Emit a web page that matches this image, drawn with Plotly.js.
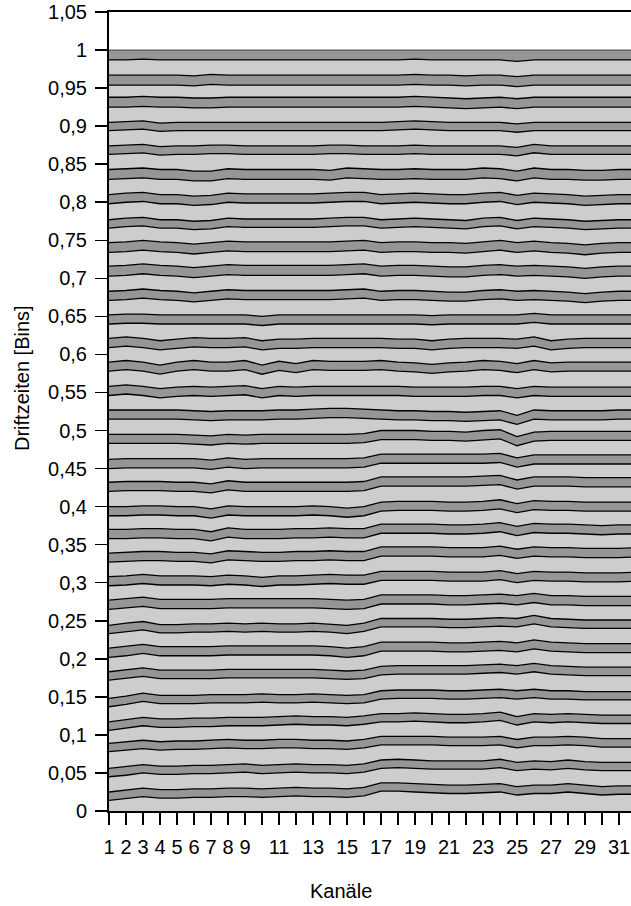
<!DOCTYPE html>
<html><head><meta charset="utf-8">
<script src="https://cdn.plot.ly/plotly-3.0.1.min.js"></script>
<style>html,body{margin:0;padding:0;overflow:hidden;background:#fff}#chart{width:636px;height:906px}</style>
</head><body><div id="chart"></div>
<script>
const channels = [1,2,3,4,5,6,7,8,9,10,11,12,13,14,15,16,17,18,19,20,21,22,23,24,25,26,27,28,29,30,31,32];
const xTickText = ['1','2','3','4','5','6','7','8','9','','11','','13','','15','','17','','19','','21','','23','','25','','27','','29','','31',''];
const yTickVals = [0,0.05,0.1,0.15,0.2,0.25,0.3,0.35,0.4,0.45,0.5,0.55,0.6,0.65,0.7,0.75,0.8,0.85,0.9,0.95,1,1.05];
const yTickText = ['0','0,05','0,1','0,15','0,2','0,25','0,3','0,35','0,4','0,45','0,5','0,55','0,6','0,65','0,7','0,75','0,8','0,85','0,9','0,95','1','1,05'];

// boundary lines (cumulative fraction) per channel; u = lower edge of dark band, t = upper edge
const u01 = [.014,.016,.019,.017,.017,.018,.018,.019,.019,.018,.019,.020,.019,.019,.018,.020,.026,.026,.025,.024,.023,.023,.024,.025,.021,.023,.023,.025,.023,.021,.022,.022];
const t01 = [.025,.027,.030,.028,.028,.029,.029,.030,.030,.029,.030,.031,.030,.030,.029,.031,.037,.037,.036,.035,.034,.034,.035,.036,.032,.034,.034,.036,.034,.032,.033,.033];
const u02 = [.045,.047,.050,.048,.048,.049,.049,.050,.051,.049,.050,.051,.050,.050,.049,.051,.056,.057,.056,.055,.055,.055,.055,.057,.053,.055,.054,.056,.054,.053,.053,.053];
const t02 = [.056,.058,.061,.059,.059,.060,.060,.061,.062,.060,.061,.062,.061,.061,.060,.062,.067,.068,.067,.066,.066,.066,.066,.068,.064,.066,.065,.067,.065,.064,.064,.064];
const u03 = [.078,.080,.082,.080,.081,.081,.082,.083,.082,.082,.083,.083,.082,.082,.081,.083,.087,.087,.087,.087,.086,.086,.086,.087,.083,.086,.086,.087,.086,.084,.084,.084];
const t03 = [.089,.091,.093,.091,.092,.092,.093,.094,.093,.093,.094,.094,.093,.093,.092,.094,.098,.098,.098,.098,.097,.097,.097,.098,.094,.097,.097,.098,.097,.095,.095,.095];
const u04 = [.106,.109,.112,.110,.110,.111,.111,.112,.112,.112,.113,.114,.113,.113,.112,.114,.117,.117,.118,.117,.116,.116,.117,.119,.113,.117,.116,.117,.116,.115,.115,.115];
const t04 = [.117,.120,.123,.121,.121,.122,.122,.123,.123,.123,.124,.125,.124,.124,.123,.125,.128,.128,.129,.128,.127,.127,.128,.130,.124,.128,.127,.128,.127,.126,.126,.126];
const u05 = [.137,.140,.144,.141,.141,.141,.142,.142,.142,.143,.142,.142,.143,.142,.141,.142,.147,.148,.148,.148,.147,.147,.148,.149,.147,.149,.147,.147,.146,.146,.146,.146];
const t05 = [.148,.151,.155,.152,.152,.152,.153,.153,.153,.154,.153,.153,.154,.153,.152,.153,.158,.159,.159,.159,.158,.158,.159,.160,.158,.160,.158,.158,.157,.157,.157,.157];
const u06 = [.172,.174,.177,.174,.174,.174,.174,.175,.175,.175,.175,.175,.175,.174,.173,.174,.179,.180,.180,.180,.180,.180,.181,.182,.180,.183,.180,.179,.178,.178,.178,.178];
const t06 = [.183,.185,.188,.185,.185,.185,.185,.186,.186,.186,.186,.186,.186,.185,.184,.185,.190,.191,.191,.191,.191,.191,.192,.193,.191,.194,.191,.190,.189,.189,.189,.189];
const u07 = [.202,.204,.207,.204,.204,.204,.204,.205,.205,.205,.205,.205,.205,.204,.202,.204,.210,.210,.210,.210,.209,.209,.210,.211,.209,.213,.210,.209,.208,.208,.208,.208];
const t07 = [.214,.216,.219,.216,.216,.216,.216,.217,.217,.217,.217,.217,.217,.216,.214,.216,.222,.222,.222,.222,.221,.221,.222,.223,.221,.225,.222,.221,.220,.220,.220,.220];
const u08 = [.233,.236,.238,.234,.234,.235,.235,.236,.235,.236,.235,.235,.236,.235,.233,.236,.242,.242,.242,.242,.241,.241,.242,.243,.242,.246,.242,.241,.240,.240,.240,.240];
const t08 = [.244,.247,.249,.245,.245,.246,.246,.247,.246,.247,.246,.246,.247,.246,.244,.247,.253,.253,.253,.253,.252,.252,.253,.254,.253,.257,.253,.252,.251,.251,.251,.251];
const u09 = [.265,.267,.269,.266,.266,.266,.266,.267,.267,.267,.267,.267,.267,.266,.265,.266,.272,.272,.272,.272,.271,.271,.272,.273,.271,.274,.271,.271,.270,.270,.270,.270];
const t09 = [.277,.279,.281,.278,.278,.278,.278,.279,.279,.279,.279,.279,.279,.278,.277,.278,.284,.284,.284,.284,.283,.283,.284,.285,.283,.286,.283,.283,.282,.282,.282,.282];
const u10 = [.296,.297,.299,.297,.297,.297,.296,.298,.297,.295,.297,.297,.298,.299,.298,.298,.303,.303,.303,.303,.302,.302,.302,.304,.300,.303,.302,.302,.301,.301,.301,.302];
const t10 = [.308,.309,.311,.309,.309,.309,.308,.310,.309,.307,.309,.309,.310,.311,.310,.310,.315,.315,.315,.315,.314,.314,.314,.316,.312,.315,.314,.314,.313,.313,.313,.314];
const u11 = [.327,.328,.329,.329,.328,.328,.326,.330,.329,.328,.328,.329,.329,.330,.329,.329,.335,.335,.335,.335,.334,.334,.334,.336,.332,.335,.334,.334,.333,.333,.333,.334];
const t11 = [.339,.340,.341,.341,.340,.340,.338,.342,.341,.340,.340,.341,.341,.342,.341,.341,.347,.347,.347,.347,.346,.346,.346,.348,.344,.347,.346,.346,.345,.345,.345,.346];
const u12 = [.358,.358,.359,.359,.358,.358,.355,.360,.358,.358,.358,.359,.359,.360,.359,.359,.365,.365,.365,.365,.364,.364,.365,.367,.362,.366,.365,.365,.364,.363,.364,.364];
const t12 = [.370,.370,.371,.371,.370,.370,.367,.372,.370,.370,.370,.371,.371,.372,.371,.371,.377,.377,.377,.377,.376,.376,.377,.379,.374,.378,.377,.377,.376,.375,.376,.376];
const u13 = [.388,.388,.389,.389,.388,.388,.385,.389,.388,.388,.388,.388,.389,.388,.386,.388,.394,.395,.395,.395,.394,.394,.395,.397,.392,.396,.395,.395,.394,.394,.394,.394];
const t13 = [.400,.400,.401,.401,.400,.400,.397,.401,.400,.400,.400,.400,.401,.400,.398,.400,.406,.407,.407,.407,.406,.406,.407,.409,.404,.408,.407,.407,.406,.406,.406,.406];
const u14 = [.420,.421,.421,.421,.420,.420,.418,.422,.420,.420,.420,.420,.420,.420,.420,.421,.427,.427,.427,.427,.427,.427,.428,.429,.423,.427,.427,.427,.426,.426,.426,.426];
const t14 = [.432,.433,.433,.433,.432,.432,.430,.434,.432,.432,.432,.432,.432,.432,.432,.433,.439,.439,.439,.439,.439,.439,.440,.441,.435,.439,.439,.439,.438,.438,.438,.438];
const u15 = [.450,.451,.451,.451,.451,.451,.449,.452,.450,.451,.451,.451,.451,.451,.451,.452,.457,.457,.457,.457,.457,.457,.457,.458,.452,.456,.456,.456,.456,.456,.456,.456];
const t15 = [.462,.463,.463,.463,.463,.463,.461,.464,.462,.463,.463,.463,.463,.463,.463,.464,.469,.469,.469,.469,.469,.469,.469,.470,.464,.468,.468,.468,.468,.468,.468,.468];
const u16 = [.483,.483,.483,.483,.483,.482,.481,.483,.482,.483,.483,.483,.483,.483,.483,.484,.488,.488,.488,.487,.487,.486,.488,.489,.480,.486,.487,.487,.487,.487,.487,.487];
const t16 = [.495,.495,.495,.495,.495,.494,.493,.495,.494,.495,.495,.495,.495,.495,.495,.496,.500,.500,.500,.499,.499,.498,.500,.501,.492,.498,.499,.499,.499,.499,.499,.499];
const u17 = [.515,.515,.515,.515,.515,.514,.513,.514,.514,.514,.515,.515,.516,.517,.517,.516,.515,.514,.514,.513,.513,.512,.513,.514,.508,.515,.514,.514,.514,.514,.515,.515];
const t17 = [.527,.527,.527,.527,.527,.526,.525,.526,.526,.526,.527,.527,.528,.529,.529,.528,.527,.526,.526,.525,.525,.524,.525,.526,.520,.527,.526,.526,.526,.526,.527,.527];
const u18 = [.546,.548,.546,.543,.545,.546,.545,.546,.547,.543,.546,.545,.546,.546,.546,.546,.546,.546,.545,.545,.545,.545,.546,.546,.543,.546,.545,.545,.545,.545,.545,.545];
const t18 = [.558,.560,.558,.555,.557,.558,.557,.558,.559,.555,.558,.557,.558,.558,.558,.558,.558,.558,.557,.557,.557,.557,.558,.558,.555,.558,.557,.557,.557,.557,.557,.557];
const u19 = [.578,.580,.578,.574,.578,.580,.578,.578,.580,.574,.579,.576,.580,.579,.579,.579,.580,.578,.577,.575,.577,.578,.580,.579,.576,.580,.577,.578,.578,.578,.578,.578];
const t19 = [.590,.592,.590,.586,.590,.592,.590,.590,.592,.586,.591,.588,.592,.591,.591,.591,.592,.590,.589,.587,.589,.590,.592,.591,.588,.592,.589,.590,.590,.590,.590,.590];
const u20 = [.609,.611,.609,.606,.608,.610,.609,.609,.610,.606,.608,.608,.609,.609,.609,.609,.609,.608,.608,.606,.608,.609,.609,.609,.608,.611,.606,.608,.609,.609,.609,.609];
const t20 = [.621,.623,.621,.618,.620,.622,.621,.621,.622,.618,.620,.620,.621,.621,.621,.621,.621,.620,.620,.618,.620,.621,.621,.621,.620,.623,.618,.620,.621,.621,.621,.621];
const u21 = [.640,.641,.641,.640,.640,.640,.640,.640,.640,.638,.640,.640,.640,.640,.640,.640,.640,.640,.640,.639,.640,.640,.640,.640,.640,.642,.640,.640,.640,.640,.640,.640];
const t21 = [.652,.653,.653,.652,.652,.652,.652,.652,.652,.650,.652,.652,.652,.652,.652,.652,.652,.652,.652,.651,.652,.652,.652,.652,.652,.654,.652,.652,.652,.652,.652,.652];
const u22 = [.671,.672,.674,.672,.671,.669,.671,.673,.672,.672,.672,.672,.672,.672,.673,.674,.671,.672,.672,.671,.670,.670,.672,.673,.671,.672,.671,.670,.668,.670,.671,.671];
const t22 = [.683,.684,.686,.684,.683,.681,.683,.685,.684,.684,.684,.684,.684,.684,.685,.686,.683,.684,.684,.683,.682,.682,.684,.685,.683,.684,.683,.682,.680,.682,.683,.683];
const u23 = [.703,.704,.706,.704,.703,.701,.703,.705,.704,.704,.704,.704,.704,.704,.705,.706,.703,.704,.704,.703,.702,.702,.704,.705,.703,.704,.703,.702,.700,.702,.703,.703];
const t23 = [.716,.717,.719,.717,.716,.714,.716,.718,.717,.717,.717,.717,.717,.717,.718,.719,.716,.717,.717,.716,.715,.715,.717,.718,.716,.717,.716,.715,.713,.715,.716,.716];
const u24 = [.734,.735,.737,.735,.734,.732,.734,.736,.735,.735,.735,.735,.735,.735,.736,.737,.734,.735,.735,.734,.734,.733,.735,.737,.734,.736,.734,.733,.731,.733,.734,.734];
const t24 = [.747,.748,.750,.748,.747,.745,.747,.749,.748,.748,.748,.748,.748,.748,.749,.750,.747,.748,.748,.747,.747,.746,.748,.750,.747,.749,.747,.746,.744,.746,.747,.747];
const u25 = [.766,.768,.769,.766,.766,.764,.765,.768,.767,.767,.767,.767,.767,.768,.769,.769,.766,.767,.768,.767,.766,.765,.768,.769,.765,.768,.767,.766,.764,.765,.766,.766];
const t25 = [.777,.779,.780,.777,.777,.775,.776,.779,.778,.778,.778,.778,.778,.779,.780,.780,.777,.778,.779,.778,.777,.776,.779,.780,.776,.779,.778,.777,.775,.776,.777,.777];
const u26 = [.798,.800,.801,.798,.798,.796,.797,.800,.799,.799,.799,.799,.799,.800,.801,.801,.798,.799,.800,.799,.798,.798,.800,.801,.797,.800,.799,.798,.796,.797,.798,.798];
const t26 = [.810,.812,.813,.810,.810,.808,.809,.812,.811,.811,.811,.811,.811,.812,.813,.813,.810,.811,.812,.811,.810,.810,.812,.813,.809,.812,.811,.810,.808,.809,.810,.810];
const u27 = [.830,.831,.832,.830,.830,.828,.828,.831,.830,.830,.830,.830,.830,.829,.832,.831,.830,.830,.831,.830,.830,.830,.832,.831,.828,.832,.830,.830,.829,.829,.830,.830];
const t27 = [.843,.844,.845,.843,.843,.841,.841,.844,.843,.843,.843,.843,.843,.842,.845,.844,.843,.843,.844,.843,.843,.843,.845,.844,.841,.845,.843,.843,.842,.842,.843,.843];
const u28 = [.863,.864,.865,.862,.863,.863,.864,.864,.863,.863,.863,.863,.863,.864,.864,.863,.863,.863,.864,.863,.863,.863,.863,.863,.861,.865,.863,.863,.863,.863,.863,.863];
const t28 = [.874,.875,.876,.873,.874,.874,.875,.875,.874,.874,.874,.874,.874,.875,.875,.874,.874,.874,.875,.874,.874,.874,.874,.874,.872,.876,.874,.874,.874,.874,.874,.874];
const u29 = [.894,.895,.896,.893,.894,.894,.894,.894,.894,.894,.894,.894,.894,.894,.894,.894,.894,.895,.896,.895,.894,.894,.894,.894,.892,.894,.894,.894,.894,.894,.894,.894];
const t29 = [.905,.906,.907,.904,.905,.905,.905,.905,.905,.905,.905,.905,.905,.905,.905,.905,.905,.906,.907,.906,.905,.905,.905,.905,.903,.905,.905,.905,.905,.905,.905,.905];
const u30 = [.925,.925,.926,.925,.925,.924,.924,.925,.925,.925,.925,.925,.925,.925,.925,.925,.925,.925,.926,.925,.924,.923,.924,.925,.923,.925,.925,.925,.925,.925,.925,.925];
const t30 = [.938,.938,.939,.938,.938,.937,.937,.938,.938,.938,.938,.938,.938,.938,.938,.938,.938,.938,.939,.938,.937,.936,.937,.938,.936,.938,.938,.938,.938,.938,.938,.938];
const u31 = [.954,.954,.954,.954,.954,.953,.955,.954,.954,.954,.954,.954,.954,.954,.954,.954,.954,.954,.955,.954,.954,.953,.954,.954,.952,.954,.954,.954,.954,.954,.954,.954];
const t31 = [.967,.967,.967,.967,.967,.966,.968,.967,.967,.967,.967,.967,.967,.967,.967,.967,.967,.967,.968,.967,.967,.966,.967,.967,.965,.967,.967,.967,.967,.967,.967,.967];
const u32 = [.987,.987,.988,.987,.987,.987,.987,.987,.987,.987,.987,.987,.987,.987,.987,.987,.987,.987,.988,.987,.987,.987,.987,.987,.985,.987,.987,.987,.987,.987,.987,.987];
const t32 = [1,1,1,1,1,1,1,1,1,1,1,1,1,1,1,1,1,1,1,1,1,1,1,1,1,1,1,1,1,1,1,1];

const edges = [u01,t01,u02,t02,u03,t03,u04,t04,u05,t05,u06,t06,u07,t07,u08,t08,
  u09,t09,u10,t10,u11,t11,u12,t12,u13,t13,u14,t14,u15,t15,u16,t16,
  u17,t17,u18,t18,u19,t19,u20,t20,u21,t21,u22,t22,u23,t23,u24,t24,
  u25,t25,u26,t26,u27,t27,u28,t28,u29,t29,u30,t30,u31,t31,u32,t32];

const LIGHT = '#cdcdcd', DARK = '#969696';
const traces = edges.map((y, i) => ({
  type: 'scatter', mode: 'lines', x: channels, y: y,
  fill: i === 0 ? 'tozeroy' : 'tonexty',
  fillcolor: i % 2 === 0 ? LIGHT : DARK,
  line: {color: i === edges.length - 1 ? '#555555' : '#000000', width: 1.3},
  hoverinfo: 'skip', showlegend: false
}));

const FONT = 'Liberation Sans, Arial, sans-serif';
const layout = {
  width: 636, height: 906,
  margin: {l: 109, r: 0, t: 12, b: 95, pad: 0},
  paper_bgcolor: '#ffffff', plot_bgcolor: '#ffffff',
  font: {family: FONT, size: 20, color: '#000000'},
  showlegend: false,
  xaxis: {
    range: [1, 32], tickmode: 'array', tickvals: channels, ticktext: xTickText,
    showgrid: false, zeroline: false, showline: true, linecolor: '#000', linewidth: 2, mirror: true,
    ticks: 'outside', ticklen: 12, tickwidth: 1.5, tickcolor: '#000',
    tickfont: {family: FONT, size: 20, color: '#000'}, ticklabelstandoff: 5
  },
  yaxis: {
    range: [0, 1.05], tickmode: 'array', tickvals: yTickVals, ticktext: yTickText,
    showgrid: false, zeroline: false, showline: true, linecolor: '#000', linewidth: 2, mirror: true,
    ticks: 'outside', ticklen: 12, tickwidth: 1.5, tickcolor: '#000',
    tickfont: {family: FONT, size: 20, color: '#000'}, ticklabelstandoff: 4
  },
  annotations: [
    {text: 'Kanäle', xref: 'paper', yref: 'paper', x: 0.4402, y: -0.0995,
     xanchor: 'center', yanchor: 'middle', showarrow: false, font: {family: FONT, size: 20, color: '#000'}},
    {text: 'Driftzeiten [Bins]', xref: 'paper', yref: 'paper', x: -0.1651, y: 0.5419, textangle: -90,
     xanchor: 'center', yanchor: 'middle', showarrow: false, font: {family: FONT, size: 20, color: '#000'}}
  ]
};
Plotly.newPlot('chart', traces, layout, {staticPlot: true, displayModeBar: false});
</script>
</body></html>
